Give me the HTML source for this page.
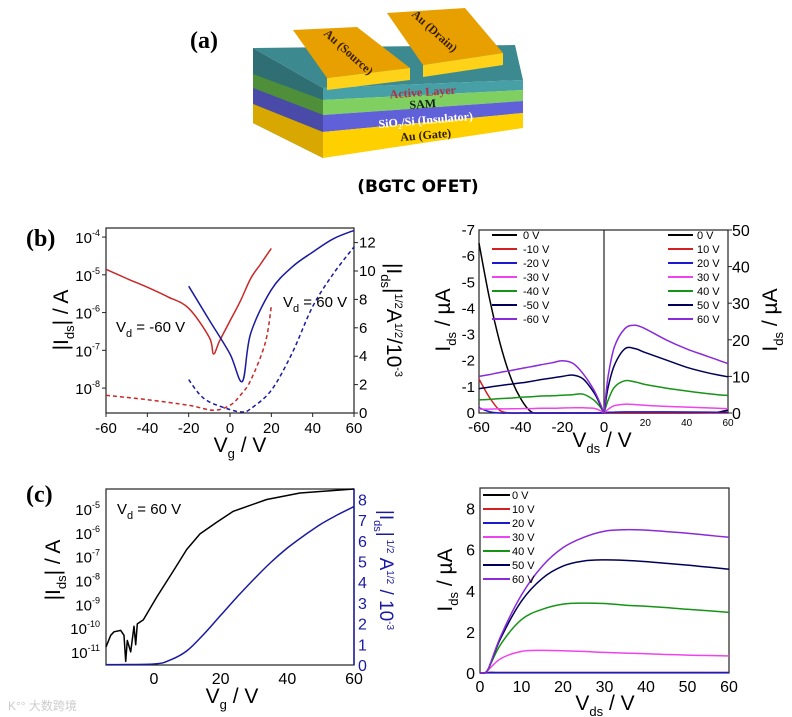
<!DOCTYPE html>
<html><head><meta charset="utf-8">
<style>
html,body{margin:0;padding:0;background:#fff;}
svg{display:block;font-family:"Liberation Sans",Arial,sans-serif;}
</style></head>
<body>
<svg id="fig" width="792" height="717" viewBox="0 0 792 717" xmlns="http://www.w3.org/2000/svg">
<g>
  <text x="190" y="48" font-family="Liberation Serif,serif" font-weight="bold" font-size="24">(a)</text>
  <polygon points="253,48 323,88 323,158 253,123" fill="#2f6f74"/>
  <polygon points="253,74 323,100 323,115 253,88" fill="#4f8f3a"/>
  <polygon points="253,88 323,115 323,132 253,104" fill="#4a4aa8"/>
  <polygon points="253,104 323,132 323,158 253,123" fill="#d8a800"/>
  <polygon points="253,48 515,45 523,80 323,88" fill="#3c8a90"/>
  <polygon points="323,88 523,80 523,90 323,100" fill="#46a0a6"/>
  <polygon points="323,100 523,90 523,101 323,115" fill="#7fd060"/>
  <polygon points="323,115 523,101 523,113 323,132" fill="#6060d8"/>
  <polygon points="323,132 523,113 523,128 323,158" fill="#ffd000"/>
  <polygon points="293,30 357,27 410,68 327,78" fill="#e8a000"/>
  <polygon points="327,78 410,68 410,80 327,90" fill="#ffd21a"/>
  <polygon points="387,13 465,8 503,53 423,65" fill="#e8a000"/>
  <polygon points="423,65 503,53 503,65 423,77" fill="#ffd21a"/>
  <text x="346" y="55" transform="rotate(42 346 55)" text-anchor="middle" font-family="Liberation Serif,serif" font-weight="bold" font-size="12" fill="#3a2000">Au (Source)</text>
  <text x="432" y="34" transform="rotate(42 432 34)" text-anchor="middle" font-family="Liberation Serif,serif" font-weight="bold" font-size="12" fill="#3a2000">Au (Drain)</text>
  <g font-family="Liberation Serif,serif" font-weight="bold" font-size="12" text-anchor="middle">
    <text x="423" y="96" transform="rotate(-4 423 96)" fill="#b03040">Active Layer</text>
    <text x="423" y="108" transform="rotate(-4 423 108)" fill="#102010">SAM</text>
    <text x="426" y="124" transform="rotate(-5 426 124)" fill="#fff">SiO₂/Si (Insulator)</text>
    <text x="426" y="139" transform="rotate(-5 426 139)" fill="#302000">Au (Gate)</text>
  </g>
  <text x="418" y="192" text-anchor="middle" font-weight="bold" font-size="17" font-family="DejaVu Sans,sans-serif">(BGTC OFET)</text>
</g>
<text x="26" y="246" font-family="Liberation Serif,serif" font-weight="bold" font-size="24">(b)</text>
<text x="26" y="502" font-family="Liberation Serif,serif" font-weight="bold" font-size="24">(c)</text>
<text x="8" y="710" font-size="12" fill="#ccc" font-family="Liberation Sans,'Noto Sans CJK SC',sans-serif">K°° 大数跨境</text>
</svg>
<script>
// ---------- data: panel b left (transfer) ----------
const bRedVg = [-60,-50,-40,-30,-20,-10,-8,-5,0,5,10,15,20];
const bRedI = [1.4e-5,8e-6,4.7e-6,2.6e-6,1.3e-6,2.2e-7,8e-8,1.8e-7,6e-7,2e-6,8e-6,2e-5,5e-5];
const bBlueVg = [-20,-10,0,6,10,20,30,40,50,60];
const bBlueI = [5e-6,6.3e-7,8e-8,1.5e-8,2.8e-7,4e-6,1.6e-5,4e-5,9e-5,1.5e-4];
const bRedSqVg = [-60,-40,-20,-8,0,5,10,17,20];
const bRedSq = [1.25,0.94,0.54,0.2,0.54,1.25,2.3,4.9,7.5];
const bBlueSqVg = [-20,-15,-10,0,6,10,20,30,40,50,60];
const bBlueSq = [2.35,1.36,0.78,0.24,0.07,0.3,1.6,4.2,7.5,9.8,11.7];
// ---------- data: panel b right (output, ambipolar) ----------
const outLVds = [-60,-55,-50,-45,-40,-35,-30,-25,-20,-15,-10,-5,-2,0];
const outL0 = [-6.5,-4.4,-2.7,-1.4,-0.55,-0.05,0,0,0,0,0,0,0,0];
const outL10 = [-1.3,-0.6,-0.1,0,0,0,0,0,0,0,0,0,0,0];
const outL20 = [-0.2,-0.05,0,0,0,0,0,0,0,0,0,0,0,0];
const outL30 = [-0.15,-0.15,-0.16,-0.16,-0.17,-0.17,-0.18,-0.18,-0.19,-0.2,-0.2,-0.18,-0.1,0];
const outL40 = [-0.5,-0.52,-0.55,-0.57,-0.6,-0.62,-0.65,-0.66,-0.68,-0.7,-0.72,-0.5,-0.25,0];
const outL50 = [-0.93,-0.99,-1.05,-1.1,-1.15,-1.21,-1.28,-1.34,-1.4,-1.45,-1.3,-0.8,-0.35,0];
const outL60 = [-1.4,-1.47,-1.55,-1.62,-1.7,-1.77,-1.85,-1.92,-2.0,-1.9,-1.5,-0.9,-0.4,0];
const outRVds = [0,2,5,10,15,20,30,40,50,55,60];
const outR0 = [0,0,0,0,0,0,0,0,0.05,0.2,0.8];
const outR10 = [0,0,0,0,0,0,0,0,0,0,0];
const outR20 = [0,0.2,0.25,0.3,0.3,0.3,0.3,0.28,0.25,0.2,0.2];
const outR30 = [0,1,2,2.4,2.3,2.1,1.8,1.6,1.4,1.3,1.2];
const outR40 = [0,3.5,7,8.8,8.5,7.8,6.8,6,5.3,5,4.8];
const outR50 = [0,7,13,17.5,17.6,16.5,14.5,12.5,11,10.4,9.9];
const outR60 = [0,10,18,23,24,23,20,17.5,15.5,14.5,13.5];
const outLLabels = ["0 V","-10 V","-20 V","-30 V","-40 V","-50 V","-60 V"];
const outRLabels = ["0 V","10 V","20 V","30 V","40 V","50 V","60 V"];
// ---------- data: panel c left (transfer) ----------
const cVg = [-14.4,-13,-12,-10,-9,-8.5,-8,-7,-6,-5.5,-5,-3.2,0.8,5.8,9.8,13.8,18.8,23.8,33.8,43.8,60];
const cI = [1.6e-11,5e-11,7e-11,8e-11,5e-11,4e-12,3e-11,1e-11,1.2e-10,2e-11,1.5e-10,2.2e-10,2e-9,2.5e-8,2e-7,9e-7,2.8e-6,8e-6,2.5e-5,4.7e-5,6.9e-5];
const cSqVg = [-14.4,0,5,10,15,20,25,30,35,40,45,50,55,60];
const cSq = [0.02,0.05,0.25,0.7,1.5,2.4,3.3,4.15,4.95,5.65,6.25,6.8,7.25,7.65];
// ---------- data: panel c right (output) ----------
const cOutVds = [0,1,2,5,10,15,20,25,30,35,40,45,50,55,60];
const cOut0 = [0,0,0.02,0.02,0.02,0.02,0.02,0.02,0.02,0.02,0.02,0.02,0.02,0.02,0.02];
const cOut10 = [0,0,0.02,0.02,0.02,0.02,0.02,0.02,0.02,0.02,0.02,0.02,0.02,0.02,0.02];
const cOut20 = [0,0,0.02,0.02,0.02,0.02,0.02,0.02,0.02,0.02,0.02,0.02,0.02,0.02,0.02];
const cOut30 = [0,0,0.15,0.7,1.05,1.1,1.08,1.05,1.0,0.97,0.94,0.9,0.87,0.85,0.83];
const cOut40 = [0,0,0.2,1.4,2.6,3.1,3.35,3.4,3.38,3.3,3.25,3.18,3.1,3.03,2.95];
const cOut50 = [0,0,0.2,1.7,3.5,4.6,5.2,5.45,5.5,5.48,5.42,5.33,5.25,5.15,5.05];
const cOut60 = [0,0,0.2,1.8,3.8,5.2,6.1,6.6,6.9,6.97,6.95,6.88,6.8,6.7,6.6];
const seriesColors = ["#000000","#d42020","#1a1ad0","#ee44ee","#179317","#000058","#8a2ad8"];

const NS = "http://www.w3.org/2000/svg";
const svg = document.getElementById('fig');
function mk(tag, attrs, parent){const e=document.createElementNS(NS,tag);for(const k in attrs)e.setAttribute(k,attrs[k]);(parent||svg).appendChild(e);return e;}
function lin(d0,d1,r0,r1){return v=>r0+(v-d0)*(r1-r0)/(d1-d0);}
function logS(d0,d1,r0,r1){return v=>r0+(Math.log10(v)-d0)*(r1-r0)/(d1-d0);}
function path(xs,ys,sx,sy,color,name,dash,smooth){
  const P=xs.map((x,i)=>[sx(x),sy(ys[i])]);
  let d='M'+P[0][0].toFixed(1)+','+P[0][1].toFixed(1);
  for(let i=0;i<P.length-1;i++){
    if(!smooth){d+='L'+P[i+1][0].toFixed(1)+','+P[i+1][1].toFixed(1);continue;}
    const p0=P[Math.max(i-1,0)],p1=P[i],p2=P[i+1],p3=P[Math.min(i+2,P.length-1)];
    const c1=[p1[0]+(p2[0]-p0[0])/6,p1[1]+(p2[1]-p0[1])/6];
    const c2=[p2[0]-(p3[0]-p1[0])/6,p2[1]-(p3[1]-p1[1])/6];
    d+='C'+c1[0].toFixed(1)+','+c1[1].toFixed(1)+' '+c2[0].toFixed(1)+','+c2[1].toFixed(1)+' '+p2[0].toFixed(1)+','+p2[1].toFixed(1);
  }
  const p=mk('path',{d:d,fill:'none',stroke:color,'stroke-width':1.5,'stroke-dasharray':dash||'none','stroke-linejoin':'round'});
  
  
  return p;
}
function txt(x,y,s,opts){
  const t=mk('text',Object.assign({x:x,y:y},opts||{}));
  t.innerHTML=s;
  return t;
}
function frame(x0,y0,x1,y1,name){
  const r=mk('rect',{x:x0,y:y0,width:x1-x0,height:y1-y0,fill:'none',stroke:'#222','stroke-width':1.2});
  
  
}

// ================= Panel b left =================
{
  const X0=106,X1=354,Y0=228,Y1=413;
  const sx=lin(-60,60,X0,X1);
  const sy=logS(-3.76,-8.66,Y0,Y1);
  const sy2=lin(0,12,Y1,Y1-12*14.2);
  frame(X0,Y0,X1,Y1,'b-left-plot-frame');
  const xt=[-60,-40,-20,0,20,40,60];
  for(const v of xt){
    const l=mk('line',{x1:sx(v),x2:sx(v),y1:Y1,y2:Y1+4,stroke:'#222'});
    
    const t=txt(sx(v),433,v,{'text-anchor':'middle','font-size':15});
    
  }
  const yt=[-4,-5,-6,-7,-8];
  for(const e of yt){
    const y=sy(Math.pow(10,e));
    const l=mk('line',{x1:X0-4,x2:X0,y1:y,y2:y,stroke:'#222'});
    
    const t=txt(100,y+6,'10<tspan font-size="9" dy="-7">'+e+'</tspan>',{'text-anchor':'end','font-size':15});
    
  }
  const yt2=[0,2,4,6,8,10,12];
  for(const v of yt2){
    const l=mk('line',{x1:X1,x2:X1+4,y1:sy2(v),y2:sy2(v),stroke:'#222'});
    
    const t=txt(359,sy2(v)+5,v,{'font-size':15});
    
  }
  path(bRedVg,bRedI,sx,sy,'#c82828','b-red-log-curve',null,true);
  path(bBlueVg,bBlueI,sx,sy,'#1a1aa0','b-blue-log-curve',null,true);
  path(bRedSqVg,bRedSq,sx,sy2,'#c82828','b-red-sqrt-curve','4,3',true);
  path(bBlueSqVg,bBlueSq,sx,sy2,'#1a1aa0','b-blue-sqrt-curve','4,3',true);
  let t=txt(116,332,'V<tspan font-size="11" dy="5">d</tspan><tspan dy="-5"> = -60 V</tspan>',{'font-size':15});
  
  t=txt(283,307,'V<tspan font-size="11" dy="5">d</tspan><tspan dy="-5"> = 60 V</tspan>',{'font-size':15});
  
  t=txt(240,452,'V<tspan font-size="13" dy="6">g</tspan><tspan dy="-6"> / V</tspan>',{'text-anchor':'middle','font-size':21});
  
  t=txt(0,0,'|I<tspan font-size="13" dy="6">ds</tspan><tspan dy="-6">| / A</tspan>',{'text-anchor':'middle','font-size':21,transform:'translate(68,320) rotate(-90)'});
  
  t=txt(0,0,'|I<tspan font-size="13" dy="6">ds</tspan><tspan dy="-6">|</tspan><tspan font-size="11" dy="-8">1/2</tspan><tspan dy="8">A</tspan><tspan font-size="11" dy="-8">1/2</tspan><tspan dy="8">/10</tspan><tspan font-size="11" dy="-8">-3</tspan>',{'text-anchor':'middle','font-size':21,transform:'translate(387,320) rotate(90)'});
  
}

// ================= Panel b right =================
{
  const X0=479,XM=604,X1=728,Y0=230,Y1=413;
  const sxL=lin(-60,0,X0,XM), sxR=lin(0,60,XM,X1);
  const syL=lin(0,-7,Y1,Y0), syR=lin(0,50,Y1,Y0);
  frame(X0,Y0,X1,Y1,'b-right-plot-frame');
  const mid=mk('line',{x1:XM,x2:XM,y1:Y0,y2:Y1,stroke:'#222','stroke-width':1.2});
  
  const xtL=[-60,-40,-20,0];
  for(const v of xtL){
    const t=txt(sxL(v),432,v,{'text-anchor':'middle','font-size':15});
    
  }
  const xtR=[20,40,60];
  for(const v of xtR){
    const t=txt(sxR(v),426,v,{'text-anchor':'middle','font-size':10});
    
  }
  const ytL=[0,-1,-2,-3,-4,-5,-6,-7];
  for(const v of ytL){
    const t=txt(475,syL(v)+5,v,{'text-anchor':'end','font-size':15});
    
  }
  const ytR=[0,10,20,30,40,50];
  for(const v of ytR){
    const l=mk('line',{x1:X1,x2:X1+4,y1:syR(v),y2:syR(v),stroke:'#222'});
    
    const t=txt(732,syR(v)+6,v,{'font-size':16});
    
  }
  const Ls=[outL0,outL10,outL20,outL30,outL40,outL50,outL60];
  const Rs=[outR0,outR10,outR20,outR30,outR40,outR50,outR60];
  Ls.forEach((s,i)=>path(outLVds,s,sxL,syL,seriesColors[i],'b-out-neg-'+i,null,true));
  Rs.forEach((s,i)=>path(outRVds,s,sxR,syR,seriesColors[i],'b-out-pos-'+i,null,true));
  outLLabels.forEach((lab,i)=>{
    const y=235+i*14;
    const l=mk('line',{x1:492,x2:517,y1:y,y2:y,stroke:seriesColors[i],'stroke-width':2});
    
    const t=txt(523,y+4,lab,{'font-size':11});
    
  });
  outRLabels.forEach((lab,i)=>{
    const y=235+i*14;
    const l=mk('line',{x1:668,x2:693,y1:y,y2:y,stroke:seriesColors[i],'stroke-width':2});
    
    const t=txt(697,y+4,lab,{'font-size':11});
    
  });
  let t=txt(602,447,'V<tspan font-size="13" dy="6">ds</tspan><tspan dy="-6"> / V</tspan>',{'text-anchor':'middle','font-size':21});
  
  t=txt(0,0,'I<tspan font-size="13" dy="6">ds</tspan><tspan dy="-6"> / µA</tspan>',{'text-anchor':'middle','font-size':21,transform:'translate(450,320) rotate(-90)'});
  
  t=txt(0,0,'I<tspan font-size="13" dy="6">ds</tspan><tspan dy="-6"> / µA</tspan>',{'text-anchor':'middle','font-size':21,transform:'translate(777,320) rotate(-90)'});
  
}

// ================= Panel c left =================
{
  const X0=106,X1=354,Y0=489,Y1=665;
  const sx=lin(0,60,154,354);
  const sy=logS(-4.16,-11.55,Y0,Y1);
  const sy2=lin(0,8,Y1,Y1-8*20.7);
  frame(X0,Y0,X1,Y1,'c-left-plot-frame');
  const ax=mk('line',{x1:X1,x2:X1,y1:Y0,y2:Y1,stroke:'#1a1aa0','stroke-width':1.5});
  
  const xt=[0,20,40,60];
  for(const v of xt){
    const t=txt(sx(v),684,v,{'text-anchor':'middle','font-size':16});
    
  }
  const yt=[-5,-6,-7,-8,-9,-10,-11];
  for(const e of yt){
    const y=sy(Math.pow(10,e));
    const t=txt(100,y+6,'10<tspan font-size="9" dy="-7">'+e+'</tspan>',{'text-anchor':'end','font-size':15});
    
  }
  const yt2=[0,1,2,3,4,5,6,7,8];
  for(const v of yt2){
    const t=txt(358,sy2(v)+6,v,{'font-size':16,fill:'#1a1aa0'});
    
  }
  path(cVg,cI,sx,sy,'#000','c-log-curve',null,false);
  path(cSqVg,cSq,sx,sy2,'#1a1aa0','c-sqrt-curve',null,true);
  let t=txt(117,514,'V<tspan font-size="11" dy="5">d</tspan><tspan dy="-5"> = 60 V</tspan>',{'font-size':15});
  
  t=txt(232,703,'V<tspan font-size="13" dy="6">g</tspan><tspan dy="-6"> / V</tspan>',{'text-anchor':'middle','font-size':21});
  
  t=txt(0,0,'|I<tspan font-size="13" dy="6">ds</tspan><tspan dy="-6">| / A</tspan>',{'text-anchor':'middle','font-size':21,transform:'translate(60,570) rotate(-90)'});
  
  t=txt(0,0,'|I<tspan font-size="11" dy="6">ds</tspan><tspan dy="-6">|</tspan><tspan font-size="10" dy="-7"> 1/2</tspan><tspan dy="7"> A</tspan><tspan font-size="10" dy="-7">1/2</tspan><tspan dy="7"> / 10</tspan><tspan font-size="10" dy="-7">-3</tspan>',{'text-anchor':'middle','font-size':19,fill:'#1a1aa0',transform:'translate(380,570) rotate(90)'});
  
}

// ================= Panel c right =================
{
  const X0=480,X1=729,Y0=488,Y1=673;
  const sx=lin(0,60,X0,X1);
  const sy=lin(0,9,Y1,Y0);
  frame(X0,Y0,X1,Y1,'c-right-plot-frame');
  const xt=[0,10,20,30,40,50,60];
  for(const v of xt){
    const t=txt(sx(v),692,v,{'text-anchor':'middle','font-size':16});
    
  }
  const yt=[0,2,4,6,8];
  for(const v of yt){
    const t=txt(475,sy(v)+6,v,{'text-anchor':'end','font-size':16});
    
  }
  const S=[cOut0,cOut10,cOut20,cOut30,cOut40,cOut50,cOut60];
  S.forEach((s,i)=>path(cOutVds,s,sx,sy,seriesColors[i],'c-out-'+i,null,true));
  outRLabels.forEach((lab,i)=>{
    const y=495+i*14;
    const l=mk('line',{x1:483,x2:510,y1:y,y2:y,stroke:seriesColors[i],'stroke-width':2});
    
    const t=txt(512,y+4,lab,{'font-size':11});
    
  });
  let t=txt(605,710,'V<tspan font-size="13" dy="6">ds</tspan><tspan dy="-6"> / V</tspan>',{'text-anchor':'middle','font-size':21});
  
  t=txt(0,0,'I<tspan font-size="13" dy="6">ds</tspan><tspan dy="-6"> / µA</tspan>',{'text-anchor':'middle','font-size':21,transform:'translate(452,580) rotate(-90)'});
  
}
</script>
</body></html>
